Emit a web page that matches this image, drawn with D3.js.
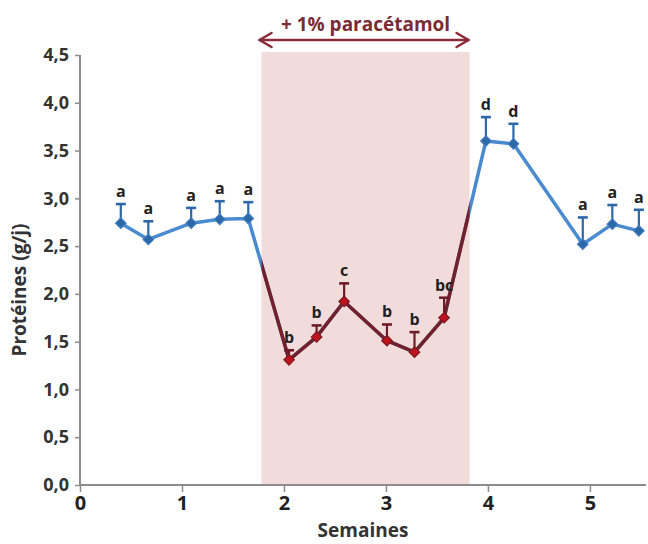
<!DOCTYPE html>
<html><head><meta charset="utf-8">
<script src="https://cdn.jsdelivr.net/npm/d3@7"></script>
<style>body{margin:0;background:#fff}svg{display:block}</style>
</head><body>
<script>
// Data
const weeks   = [0.40, 0.67, 1.09, 1.37, 1.65, 2.05, 2.32, 2.59, 3.01, 3.28, 3.57, 3.98, 4.25, 4.93, 5.22, 5.48];
const protein = [2.74, 2.57, 2.74, 2.78, 2.79, 1.31, 1.55, 1.92, 1.51, 1.39, 1.75, 3.60, 3.57, 2.52, 2.73, 2.66];
const errors  = [0.20, 0.19, 0.16, 0.19, 0.17, 0.10, 0.12, 0.19, 0.17, 0.21, 0.21, 0.25, 0.21, 0.28, 0.20, 0.22];
const letters = ["a","a","a","a","a","b","b","c","b","b","bc","d","d","a","a","a"];
const treatment = [1.78, 3.82];
const treatmentLabel = "+ 1% paracétamol";
const yTicks = [0, 0.5, 1, 1.5, 2, 2.5, 3, 3.5, 4, 4.5];
const xTicks = [0, 1, 2, 3, 4, 5];

const W = 648, H = 544;
const FONT = "'Open Sans', 'Liberation Sans', sans-serif";
const svg = d3.select("body").append("svg").attr("width", W).attr("height", H)
  .style("font-family", FONT);

const x = d3.scaleLinear().domain([0, 5.55]).range([80, 646]);
const y = d3.scaleLinear().domain([0, 4.5]).range([485, 55]);

const BLUE = "#4a8bd0", BLUE_D = "#2c67a8", RED_LINE = "#74202b", RED_M = "#c0121c";

// treatment band
svg.append("rect")
  .attr("x", x(treatment[0])).attr("y", 52)
  .attr("width", x(treatment[1]) - x(treatment[0]))
  .attr("height", y(0) - 52)
  .attr("fill", "#f2dcdb");

// arrow
const ay = 40;
const arr = svg.append("g").attr("stroke", "#8a2c38").attr("stroke-width", 2.5).attr("fill", "none")
  .attr("stroke-linecap", "round").attr("stroke-linejoin", "round");
arr.append("line").attr("x1", x(treatment[0]) - 2).attr("x2", x(treatment[1]) - 1).attr("y1", ay).attr("y2", ay);
arr.append("path").attr("d", d3.line()([[x(treatment[0]) + 10, ay - 7], [x(treatment[0]) - 2, ay], [x(treatment[0]) + 10, ay + 7]]));
arr.append("path").attr("d", d3.line()([[x(treatment[1]) - 13, ay - 7], [x(treatment[1]) - 1, ay], [x(treatment[1]) - 13, ay + 7]]));
svg.append("text").attr("x", (x(treatment[0]) + x(treatment[1])) / 2).attr("y", 31)
  .attr("text-anchor", "middle").attr("font-size", 19).attr("font-weight", 700)
  .attr("fill", "#7a2b35").text(treatmentLabel);

// axes
const yAxis = svg.append("g").attr("transform", `translate(${x(0)},0)`)
  .call(d3.axisLeft(y).tickValues(yTicks).tickSize(5).tickPadding(6)
    .tickFormat(d => d3.format(".1f")(d).replace(".", ",")));
const xAxis = svg.append("g").attr("transform", `translate(0,${y(0)})`)
  .call(d3.axisBottom(x).tickValues(xTicks).tickSize(7).tickPadding(4).tickFormat(d3.format("d")));
[yAxis, xAxis].forEach(g => {
  g.select(".domain").attr("stroke", "#8c8c8c").attr("stroke-width", 2);
  g.selectAll(".tick line").attr("stroke", "#8c8c8c").attr("stroke-width", 1.5);
  g.selectAll("text").attr("font-family", FONT).attr("font-weight", 700)
    .attr("font-size", 18).attr("fill", "#333");
});
xAxis.select(".domain").attr("d", `M${x(0)},0H${W - 2}`);
yAxis.select(".domain").attr("d", `M0,${y(4.5)}V${y(0)}`);
xAxis.selectAll("text").attr("font-size", 20).attr("fill", "#222");

svg.append("text").attr("x", 363).attr("y", 537).attr("text-anchor", "middle")
  .attr("font-size", 19).attr("font-weight", 700).attr("fill", "#333").text("Semaines");
svg.append("text").attr("transform", "translate(26,290) rotate(-90)").attr("text-anchor", "middle")
  .attr("font-size", 19).attr("font-weight", 700).attr("fill", "#333").text("Protéines (g/j)");

// data
const pts = weeks.map((w, i) => ({ w, v: protein[i], e: errors[i], l: letters[i],
  inT: w >= treatment[0] && w <= treatment[1] }));
const line = d3.line().x(d => x(d.w)).y(d => y(d.v));

// clip for treatment portion
svg.append("clipPath").attr("id", "tclip").append("rect")
  .attr("x", x(treatment[0])).attr("y", 0)
  .attr("width", x(treatment[1]) - x(treatment[0])).attr("height", H);

svg.append("path").datum(pts).attr("d", line).attr("fill", "none")
  .attr("stroke", BLUE).attr("stroke-width", 3.5).attr("stroke-linejoin", "round");
svg.append("path").datum(pts).attr("d", line).attr("fill", "none").attr("clip-path", "url(#tclip)")
  .attr("stroke", RED_LINE).attr("stroke-width", 3.5).attr("stroke-linejoin", "round");

// error bars
const eb = svg.append("g").selectAll("g").data(pts).join("g")
  .attr("stroke", d => d.inT ? "#6d1c26" : BLUE_D).attr("stroke-width", 2.2);
eb.append("line").attr("x1", d => x(d.w)).attr("x2", d => x(d.w))
  .attr("y1", d => y(d.v)).attr("y2", d => y(d.v + d.e));
eb.append("line").attr("x1", d => x(d.w) - 5).attr("x2", d => x(d.w) + 5)
  .attr("y1", d => y(d.v + d.e)).attr("y2", d => y(d.v + d.e)).attr("stroke-width", 2.6);

// markers
svg.append("g").selectAll("path").data(pts).join("path")
  .attr("transform", d => `translate(${x(d.w)},${y(d.v)})`)
  .attr("d", d3.symbol(d3.symbolDiamond2, 70))
  .attr("fill", d => d.inT ? RED_M : BLUE_D)
  .attr("stroke", d => d.inT ? "#7a1a22" : "#3f7cc0").attr("stroke-width", 1.2);

// letters
svg.append("g").selectAll("text").data(pts).join("text")
  .attr("x", d => x(d.w)).attr("y", d => y(d.v + d.e) - 7)
  .attr("text-anchor", "middle").attr("font-size", 16).attr("font-weight", 700)
  .attr("fill", "#222").text(d => d.l);
</script>
</body></html>
